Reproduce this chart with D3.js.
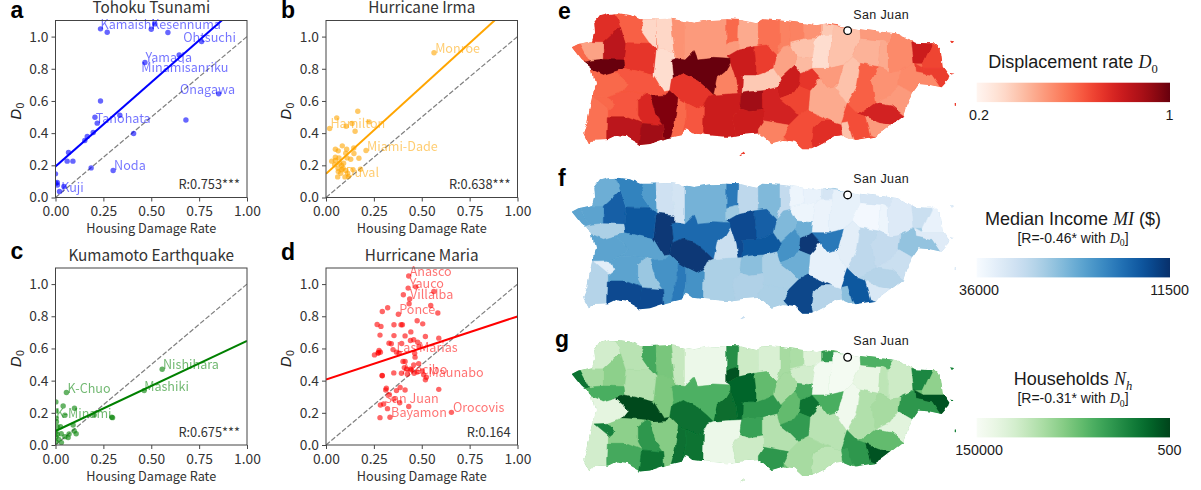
<!DOCTYPE html>
<html>
<head>
<meta charset="utf-8">
<script src="https://cdn.jsdelivr.net/npm/d3@7"></script>
<style>
html, body { margin: 0; padding: 0; background: #fff; }
svg { display: block; }
.sc text { font-family: "Noto Sans CJK JP", "Noto Sans", sans-serif; fill: #333; }
.mp text { font-family: "Liberation Sans", Arial, sans-serif; fill: #1a1a1a; }
.math { font-family: "Liberation Serif", serif; font-style: italic; }
.letter { font-family: "Liberation Sans", Arial, sans-serif; font-weight: bold; font-size: 23px; fill: #000; }
</style>
</head>
<body>
<svg width="1201" height="490"></svg>
<script>
// ---- scatter data ----
var tohokuX = [.235,.27,.519,.50,.587,.763,.646,.467,.852,.681,.235,.206,.336,.218,.197,.166,.153,.408,.068,.061,.091,.186,.301,0,.009,.01,.044,.021,.002];
var tohokuY = [1.048,1.027,1.079,1.046,1.025,.969,.886,.839,.644,.482,.60,.499,.511,.462,.404,.379,.354,.398,.28,.226,.226,.184,.168,.147,.093,.077,.068,.037,.089];
var tohokuLabels = ["Kamaishi","Kesennuma","Ohtsuchi","Yamada","Minamisanriku","Onagawa","Tanohata","Noda","Kuji"];
var tohokuLabelX = [.235,.50,.667,.47,.448,.65,.21,.306,.03];
var tohokuLabelY = [1.048,1.046,.969,.839,.78,.644,.462,.168,.037];

var irmaX = [.564,.166,.056,.019,.105,.136,.225,.152,.209,.085,.049,.108,.145,.064,.103,.146,.049,.068,.11,.129,.172,.03,.049,.071,.082,.063,.089,.141,.18,.064,.082,.103,.113,.061,.099,.077,.117,.045,.092];
var irmaY = [.90,.536,.495,.429,.443,.46,.47,.412,.292,.321,.30,.30,.308,.29,.275,.273,.25,.246,.246,.238,.244,.226,.23,.213,.199,.182,.182,.172,.176,.161,.172,.168,.151,.128,.128,.151,.13,.203,.213];
var irmaLabels = ["Monroe","Hamilton","Miami-Dade","Duval"];
var irmaLabelX = [.57,.023,.214,.103];
var irmaLabelY = [.90,.429,.292,.128];

var kumamotoX = [.557,.463,.057,.294,.298,.202,.099,.04,.002,.049,.002,.003,.009,.026,.092,.098,.108,.071,.066,.049,.03,.031,.002,.002,.002,.009,.005,.017];
var kumamotoY = [.471,.338,.326,.172,.17,.187,.228,.243,.268,.185,.212,.166,.114,.114,.124,.087,.07,.068,.046,.052,.07,.015,.083,.052,.02,.066,.145,.035];
var kumamotoLabels = ["Nishihara","Mashiki","K-Chuo","K-Minami"];
var kumamotoLabelX = [.561,.463,.063,.002];
var kumamotoLabelY = [.471,.338,.326,.17];

var mariaX = [.432,.469,.429,.563,.404,.437,.434,.547,.322,.294,.378,.584,.476,.505,.267,.287,.355,.392,.399,.443,.282,.355,.413,.519,.589,.441,.458,.479,.329,.341,.395,.486,.35,.277,.368,.274,.284,.253,.272,.382,.463,.465,.402,.413,.484,.458,.409,.423,.443,.354,.394,.425,.446,.46,.476,.503,.51,.524,.519,.293,.294,.589,.315,.312,.387,.413,.368,.331,.355,.385,.301,.284,.321,.432,.655,.282,.334];
var mariaY = [1.05,.983,.975,.954,.934,.907,.878,.867,.853,.83,.813,.82,.772,.753,.749,.737,.747,.747,.747,.703,.683,.68,.678,.674,.664,.649,.654,.639,.633,.629,.631,.612,.593,.587,.577,.575,.577,.56,.57,.57,.57,.546,.519,.519,.506,.498,.481,.471,.473,.448,.446,.44,.467,.446,.454,.46,.436,.421,.405,.432,.43,.346,.353,.342,.357,.342,.338,.313,.286,.263,.255,.249,.226,.239,.203,.17,.172];
var mariaLabels = ["Anasco","Yauco","Villalba","Ponce","Las Marias","Arecibo","Maunabo","San Juan","Bayamon","Orocovis"];
var mariaLabelX = [.437,.437,.439,.382,.368,.40,.535,.305,.34,.663];
var mariaLabelY = [1.05,.975,.907,.813,.581,.44,.425,.26,.172,.203];

var lineX = [0, 1];
var tohokuLine = [.193, 1.238];
var irmaLine = [.147, 1.23];
var kumamotoLine = [.087, .647];
var mariaLine = [.407, .799];

var xTicks = [0, .25, .5, .75, 1];
var yTicks = [0, .2, .4, .6, .8, 1];

// ---- municipalities: outline traced in map units, values ----
var islandOutline = [[65,142],[85,132],[130,122],[135,100],[133,70],[150,48],[175,42],[205,40],[240,45],[270,58],[300,58],[360,56],[400,62],[430,68],[480,60],[530,58],[570,60],[620,70],[640,58],[700,62],[760,70],[800,76],[830,70],[875,78],[930,88],[990,95],[1040,100],[1075,115],[1095,128],[1130,130],[1150,130],[1172,150],[1178,200],[1198,228],[1195,240],[1175,262],[1140,255],[1105,252],[1085,280],[1070,320],[1062,348],[1030,372],[1000,395],[975,410],[915,420],[880,405],[855,408],[820,430],[785,448],[760,448],[735,425],[700,420],[665,430],[630,400],[570,405],[530,410],[470,405],[430,400],[410,385],[395,405],[350,415],[300,432],[270,435],[230,412],[200,408],[175,420],[125,422],[118,435],[100,400],[112,370],[115,345],[125,300],[135,250],[125,205],[95,180]];
var islets = [
  [[568,466],[580,457],[582,461],[572,468]],
  [[1203,122],[1212,124],[1208,130]],
  [[1198,216],[1215,218],[1205,224]],
  [[1214,312],[1218,312],[1218,320],[1214,320]]
];
var muniShapes = [
  [[55,135],[90,130],[118,182],[90,190],[55,150]],
  [[88,125],[135,118],[160,125],[160,178],[118,182]],
  [[125,65],[165,35],[195,35],[212,78],[162,125],[130,125]],
  [[212,78],[228,128],[222,180],[160,178],[160,125]],
  [[195,35],[250,40],[280,60],[272,90],[300,130],[228,128],[212,78]],
  [[280,55],[318,55],[318,150],[300,130],[272,90]],
  [[318,50],[362,50],[375,155],[322,150]],
  [[362,50],[405,55],[405,180],[375,175],[375,155]],
  [[405,55],[530,50],[530,130],[540,178],[490,175],[440,180],[430,155],[405,180]],
  [[530,50],[568,50],[565,125],[530,130]],
  [[530,130],[565,122],[565,150],[530,170]],
  [[568,50],[628,60],[628,140],[612,140],[565,150]],
  [[628,55],[690,55],[690,130],[680,165],[650,135],[612,140],[628,140]],
  [[690,55],[722,65],[722,135],[700,140],[680,165],[690,130]],
  [[722,65],[760,65],[760,120],[722,130]],
  [[760,65],[815,70],[815,105],[795,118],[760,120]],
  [[722,130],[760,120],[795,118],[788,175],[740,170],[722,135]],
  [[815,70],[858,80],[848,105],[815,105]],
  [[795,118],[815,105],[848,105],[838,150],[838,205],[785,205],[788,175]],
  [[848,80],[930,80],[932,115],[905,170],[880,195],[838,205],[838,150],[848,105]],
  [[905,170],[932,115],[990,120],[985,200],[930,190]],
  [[930,80],[1035,95],[1015,130],[990,120],[932,115]],
  [[990,120],[1015,130],[1015,215],[985,200]],
  [[1015,130],[1035,95],[1090,120],[1092,190],[1050,210],[1015,215]],
  [[1085,125],[1150,125],[1120,190],[1092,190]],
  [[1150,125],[1185,150],[1185,205],[1115,205],[1120,190]],
  [[1092,190],[1120,205],[1185,205],[1205,235],[1175,270],[1145,225],[1095,215]],
  [[1050,210],[1092,190],[1095,215],[1145,225],[1175,270],[1105,262],[1085,278],[1045,255]],
  [[985,200],[1015,215],[1050,210],[1045,255],[1020,290],[975,310],[965,240]],
  [[930,190],[985,200],[965,240],[975,310],[925,345],[890,310],[920,260]],
  [[1020,290],[1045,255],[1085,278],[1075,320],[1065,350],[1025,318],[975,310]],
  [[925,345],[975,310],[1025,318],[1065,350],[1035,380],[985,368],[945,352]],
  [[945,352],[985,368],[1035,380],[995,415],[960,405]],
  [[890,310],[925,345],[945,352],[960,405],[995,415],[925,430],[905,405],[895,365],[870,370]],
  [[870,370],[895,365],[912,420],[880,430]],
  [[815,362],[845,362],[870,370],[880,430],[850,425],[790,460],[785,430],[790,385]],
  [[745,345],[775,330],[845,362],[815,362],[790,385],[785,430],[790,465],[755,465],[700,405],[715,375]],
  [[780,272],[812,235],[835,265],[855,260],[890,310],[870,370],[845,362],[775,330]],
  [[880,195],[905,170],[930,190],[920,260],[890,310],[855,260],[865,250]],
  [[785,205],[838,205],[880,195],[865,250],[855,260],[835,265],[812,235]],
  [[750,220],[785,205],[812,235],[780,272],[745,258]],
  [[740,170],[788,175],[785,205],[750,220],[735,195]],
  [[680,165],[700,140],[722,135],[740,170],[735,195],[692,235],[672,205]],
  [[692,235],[735,195],[750,220],[745,258],[730,280],[690,295],[680,262]],
  [[690,295],[730,280],[745,258],[780,272],[775,330],[745,345],[715,315]],
  [[612,140],[650,135],[680,165],[672,205],[618,225],[618,195]],
  [[578,225],[618,225],[672,205],[692,235],[680,262],[640,272],[600,275],[575,280]],
  [[530,170],[565,150],[612,140],[618,195],[618,225],[578,225],[575,280],[562,280],[555,235],[540,190],[540,178]],
  [[525,215],[540,190],[555,235],[562,280],[490,285],[500,235]],
  [[375,175],[405,180],[430,155],[440,180],[490,175],[540,178],[540,190],[525,215],[500,235],[490,285],[470,265],[440,240],[400,220],[368,235],[362,180]],
  [[322,150],[375,155],[375,175],[362,180],[368,235],[362,272],[340,275],[310,225],[318,150]],
  [[368,235],[400,220],[440,240],[470,265],[490,285],[462,315],[440,325],[410,310],[385,295],[362,272]],
  [[228,128],[300,130],[318,150],[310,225],[225,205],[222,180]],
  [[90,190],[118,182],[160,178],[222,180],[225,205],[195,215],[160,225],[125,210]],
  [[195,215],[225,205],[310,225],[340,275],[362,272],[385,295],[345,300],[290,280],[215,275],[235,250]],
  [[115,205],[160,225],[195,215],[235,250],[215,275],[175,290],[115,295]],
  [[105,290],[175,290],[175,350],[170,400],[175,445],[90,445],[95,370]],
  [[175,290],[215,275],[290,280],[262,300],[262,345],[275,370],[225,350],[175,350]],
  [[135,292],[175,290],[195,318],[180,330],[150,305]],
  [[172,350],[225,350],[275,370],[268,445],[170,450],[170,400]],
  [[262,300],[290,280],[300,290],[320,350],[338,375],[275,370],[262,345]],
  [[300,288],[345,285],[362,272],[385,295],[375,370],[360,425],[345,430],[338,375],[320,350]],
  [[275,370],[338,375],[345,445],[262,450],[268,420]],
  [[385,295],[410,310],[410,360],[400,405],[345,440],[360,425],[375,370]],
  [[410,310],[440,325],[462,315],[460,420],[400,405],[410,360]],
  [[475,290],[490,285],[575,280],[568,325],[548,360],[560,420],[460,420],[462,315]],
  [[575,280],[600,275],[640,272],[642,330],[600,335],[568,325]],
  [[568,325],[600,335],[642,330],[640,362],[625,385],[625,415],[560,420],[548,360]],
  [[640,272],[680,262],[690,295],[715,315],[745,345],[715,375],[640,362]],
  [[640,362],[715,375],[700,405],[700,430],[665,440],[625,415],[625,385]]
].concat(islets);

var muniD0 = [.6,.46,.74,.84,.62,.32,.32,.5,.48,.6,.48,.44,.58,.54,.54,.5,.38,.36,.3,.38,.42,.48,.44,.52,.8,.68,.7,.52,.5,.62,.48,.78,.48,.66,.38,.74,.66,.44,.38,.48,.72,.4,.46,.8,.68,.7,.36,.8,.54,1,.3,.72,.72,1,.64,.6,.58,.64,.6,.84,.76,.96,.9,.6,.64,.8,.9,.8,.78,.54,.7,.7,.7,.7];
var muniIncome = [22500,22500,23750,15900,19300,21800,31100,31600,24200,18400,27000,29400,25000,29900,34800,34300,34800,31800,34500,34000,35500,31800,34800,32800,30600,34300,33000,26200,29900,29400,30600,28700,32300,15200,25700,28700,13500,34000,33500,18400,12200,23750,25000,20800,23750,15900,15200,13950,30600,16900,12200,12200,15200,27900,22500,22500,28650,22500,33500,13950,26700,20800,13950,18400,20800,27900,25700,28200,27900,27900,31000,33000,33000,33000];
var muniHouseholds = [1200,20000,47000,13000,28000,4200,9500,36000,100000,2200,650,42000,56000,20000,22000,65000,47000,3000,125000,135000,85000,5000,30000,42000,1900,13500,650,2700,20000,24000,72000,6800,650,2700,3400,30000,20000,28000,115000,4700,1200,4200,20000,6800,3000,6800,2700,900,1050,5000,10000,1100,26000,4700,550,78000,47000,13000,1600,4200,2700,11500,1200,1100,1200,100000,3400,42000,26000,2700,60000,1600,1600,1600];

var d0Domain = [.2, 1];
var incomeDomain = [36000, 11500];
var householdsDomain = [150000, 500];

// ---- layout ----
var svg = d3.select("svg");
var scatterW = 191.5, scatterH = 177;
var colLeft = [55.5, 326];
var rowTop = [20.5, 268];

function scatterPanel(letter, title, left, top, color, xs, ys, lineY, labels, labelX, labelY, rText, rSuffix) {
    var g = svg.append("g").attr("class", "sc").attr("transform", "translate(" + left + "," + top + ")");
    var x = d3.scaleLinear().domain([0, 1]).range([0, scatterW]);
    var y = d3.scaleLinear().domain([0, 1.1]).range([scatterH, 0]);
    var clipId = "clip-" + letter;

    g.append("clipPath").attr("id", clipId).append("rect").attr("width", scatterW).attr("height", scatterH);

    var plot = g.append("g").attr("clip-path", "url(#" + clipId + ")");

    plot.append("line")
        .attr("x1", x(0)).attr("y1", y(0)).attr("x2", x(1)).attr("y2", y(1))
        .attr("stroke", "#808080").attr("stroke-width", 1.2).attr("stroke-dasharray", "5,2");

    plot.selectAll("circle").data(xs).enter().append("circle")
        .attr("cx", d => x(d))
        .attr("cy", (d, i) => y(ys[i]))
        .attr("r", 2.7)
        .attr("fill", color)
        .attr("opacity", .6);

    plot.append("line")
        .attr("x1", x(lineX[0])).attr("y1", y(lineY[0])).attr("x2", x(lineX[1])).attr("y2", y(lineY[1]))
        .attr("stroke", color).attr("stroke-width", 2);

    g.selectAll(".lab").data(labels).enter().append("text")
        .attr("class", "lab")
        .attr("x", (d, i) => x(labelX[i]))
        .attr("y", (d, i) => y(labelY[i]))
        .attr("font-size", 12.6)
        .style("fill", color)
        .attr("opacity", .55)
        .text(d => d);

    var xAxis = g.append("g").attr("transform", "translate(0," + scatterH + ")")
        .call(d3.axisBottom(x).tickValues(xTicks).tickSize(4).tickFormat(d3.format(".2f")));
    var yAxis = g.append("g")
        .call(d3.axisLeft(y).tickValues(yTicks).tickSize(4).tickFormat(d3.format(".1f")));
    [xAxis, yAxis].forEach(a => {
        a.select(".domain").remove();
        a.selectAll("line").attr("stroke", "#333").attr("stroke-width", .9);
        a.selectAll("text").attr("font-size", 13.8).attr("font-family", null);
    });
    xAxis.selectAll("text").attr("dy", "0.85em");

    g.append("rect").attr("width", scatterW).attr("height", scatterH)
        .attr("fill", "none").attr("stroke", "#444").attr("stroke-width", 1);

    g.append("text").attr("x", scatterW / 2).attr("y", -7.5).attr("text-anchor", "middle")
        .attr("font-size", 15.3).text(title);
    g.append("text").attr("x", scatterW / 2).attr("y", scatterH + 35.5).attr("text-anchor", "middle")
        .attr("font-size", 12.7).text("Housing Damage Rate");

    var yl = g.append("text").attr("transform", "translate(-35," + (scatterH / 2 + 2) + ") rotate(-90)")
        .attr("text-anchor", "middle").style("font-family", "DejaVu Sans");
    yl.append("tspan").attr("font-style", "italic").attr("font-size", 14).style("fill", "#222").text("D");
    yl.append("tspan").attr("font-size", 10).attr("dy", 3).text("0");

    var r = g.append("text").attr("x", scatterW - 7).attr("y", scatterH - 8.5).attr("text-anchor", "end")
        .attr("font-size", 12.8);
    r.append("tspan").text("R:" + rText);
    if (rSuffix) r.append("tspan").text(rSuffix);
}

scatterPanel("a", "Tohoku Tsunami", colLeft[0], rowTop[0], "#0000ff", tohokuX, tohokuY, tohokuLine, tohokuLabels, tohokuLabelX, tohokuLabelY, "0.753", "***");
scatterPanel("b", "Hurricane Irma", colLeft[1], rowTop[0], "#ffa500", irmaX, irmaY, irmaLine, irmaLabels, irmaLabelX, irmaLabelY, "0.638", "***");
scatterPanel("c", "Kumamoto Earthquake", colLeft[0], rowTop[1], "#008000", kumamotoX, kumamotoY, kumamotoLine, kumamotoLabels, kumamotoLabelX, kumamotoLabelY, "0.675", "***");
scatterPanel("d", "Hurricane Maria", colLeft[1], rowTop[1], "#ff0000", mariaX, mariaY, mariaLine, mariaLabels, mariaLabelX, mariaLabelY, "0.164", "");

// ---- maps ----
var barLeft = 976.7, barRight = 1170, barH = 19.4;

// wobbles the straight traced edges so they read like real borders
var defs = svg.append("defs");
var wobble = defs.append("filter").attr("id", "wobble").attr("filterUnits", "userSpaceOnUse")
    .attr("x", 540).attr("y", 0).attr("width", 420).attr("height", 170);
wobble.append("feTurbulence").attr("type", "fractalNoise").attr("baseFrequency", .09).attr("numOctaves", 2).attr("seed", 4).attr("result", "n");
wobble.append("feDisplacementMap").attr("in", "SourceGraphic").attr("in2", "n").attr("scale", 5).attr("xChannelSelector", "R").attr("yChannelSelector", "G").attr("result", "d");
wobble.append("feGaussianBlur").attr("in", "d").attr("stdDeviation", .35);

function mapPanel(id, offset, barY, values, colorScale, ramp) {
    var g = svg.append("g").attr("class", "mp");
    var mapG = g.append("g").attr("transform", "translate(0," + offset + ")");
    var projection = d3.geoIdentity().scale(1 / 3).translate([550, 0]);
    var path = d3.geoPath(projection);
    var island = { type: "MultiPolygon", coordinates: [[islandOutline.concat([islandOutline[0]])]].concat(
        islets.map(s => [s.concat([s[0]])])) };

    defs.append("clipPath").attr("id", "map-" + id).append("path").attr("d", path(island));

    var m = mapG.append("g").attr("filter", "url(#wobble)")
        .append("g").attr("clip-path", "url(#map-" + id + ")");
    m.append("path").attr("d", path(island)).attr("fill", colorScale(d3.median(values)));
    m.selectAll("path.muni").data(muniShapes).enter().append("path")
        .attr("class", "muni")
        .attr("d", s => path({ type: "Polygon", coordinates: [s.concat([s[0]])] }))
        .attr("fill", (s, i) => colorScale(values[i]))
        .attr("stroke", (s, i) => colorScale(values[i]))
        .attr("stroke-width", .5);

    // San Juan marker
    var sj = projection([893, 92]);
    mapG.append("circle").attr("cx", sj[0]).attr("cy", sj[1]).attr("r", 3.8)
        .attr("fill", "#fff").attr("stroke", "#000").attr("stroke-width", 1.3);
    mapG.append("text").attr("x", sj[0] + 5.5).attr("y", 18.5).attr("font-size", 12.5).attr("letter-spacing", .4).text("San Juan");

    // colour bar
    var grad = defs.append("linearGradient").attr("id", "grad-" + id);
    d3.range(0, 1.001, .05).forEach(t => {
        grad.append("stop").attr("offset", t).attr("stop-color", ramp(t));
    });
    g.append("rect").attr("x", barLeft).attr("y", barY).attr("width", barRight - barLeft).attr("height", barH)
        .attr("fill", "url(#grad-" + id + ")");
}

var redScale = d3.scaleSequential(d3.interpolateReds).domain(d0Domain);
var blueScale = d3.scaleSequential(d3.interpolateBlues).domain(incomeDomain);
var greenScale = d3.scaleSequentialLog(d3.interpolateGreens).domain(householdsDomain);

mapPanel("e", 0, 82.7, muniD0, redScale, d3.interpolateReds);
mapPanel("f", 164.3, 258, muniIncome, blueScale, d3.interpolateBlues);
mapPanel("g", 326.6, 418, muniHouseholds, greenScale, d3.interpolateGreens);

// legends text
function legendTitle(cx, y, parts, size) {
    var t = svg.append("text").attr("class", "legendT").attr("x", cx).attr("y", y).attr("text-anchor", "middle")
        .attr("font-family", "Liberation Sans").attr("font-size", size).attr("fill", "#1a1a1a");
    parts.forEach(p => {
        var s = t.append("tspan").text(p.t);
        if (p.math) s.attr("class", "math");
        if (p.sub) s.attr("font-size", size * .7).attr("dy", size * .25).attr("font-family", "Liberation Serif");
        if (p.after) s.attr("dy", -size * .25);
    });
}
legendTitle(1073, 68, [{t: "Displacement rate "}, {t: "D", math: true}, {t: "0", sub: true}], 18);
legendTitle(1073, 225, [{t: "Median Income "}, {t: "MI", math: true}, {t: " ($)"}], 18);
legendTitle(1073, 242.5, [{t: "[R=-0.46* with "}, {t: "D", math: true}, {t: "0", sub: true}, {t: "]", after: true}], 14);
legendTitle(1073, 385, [{t: "Households "}, {t: "N", math: true}, {t: "h", sub: true, math: true}], 18);
legendTitle(1073, 403, [{t: "[R=-0.31* with "}, {t: "D", math: true}, {t: "0", sub: true}, {t: "]", after: true}], 14);

var barTickLeft = ["0.2", "36000", "150000"];
var barTickRight = ["1", "11500", "500"];
var barTickY = [120, 295, 455];
barTickY.forEach((y, i) => {
    [[979, barTickLeft[i]], [1169.5, barTickRight[i]]].forEach(p => {
        svg.append("text").attr("x", p[0]).attr("y", y).attr("text-anchor", "middle")
            .attr("font-family", "Liberation Sans").attr("font-size", 14.3).attr("fill", "#1a1a1a").text(p[1]);
    });
});

// panel letters
var letters = ["a", "b", "c", "d", "e", "f", "g"];
var letterX = [10.5, 281, 10.5, 281, 558, 558, 555];
var letterY = [18, 18, 259, 260, 19, 186, 347];
letters.forEach((l, i) => {
    svg.append("text").attr("class", "letter").attr("x", letterX[i]).attr("y", letterY[i]).text(l);
});
</script>
</body>
</html>
